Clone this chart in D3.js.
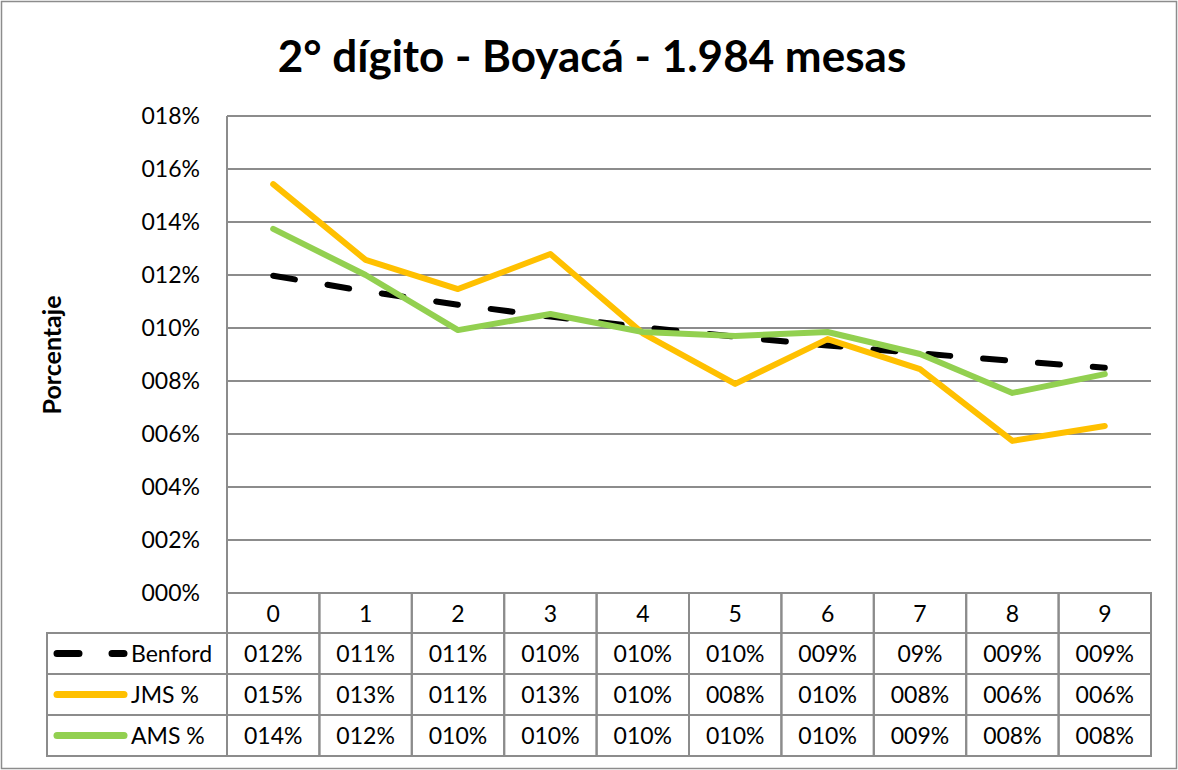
<!DOCTYPE html>
<html><head><meta charset="utf-8">
<script src="https://cdn.jsdelivr.net/npm/d3@7"></script>
<style>body{margin:0;background:#fff}svg{display:block}text{font-family:Lato,"Open Sans",sans-serif}</style>
</head><body>
<svg id="c" width="1178" height="770"></svg>
<script>
const categories = ["0","1","2","3","4","5","6","7","8","9"];
const benford = [11.97,11.39,10.88,10.43,10.03,9.67,9.34,9.04,8.76,8.50];
const jms = [15.43,12.57,11.47,12.79,9.80,7.89,9.58,8.45,5.74,6.30];
const ams = [13.74,12.00,9.92,10.53,9.85,9.70,9.85,9.02,7.55,8.26];
const benfordLabels = ["012%","011%","011%","010%","010%","010%","009%","09%","009%","009%"];
const jmsLabels = ["015%","013%","011%","013%","010%","008%","010%","008%","006%","006%"];
const amsLabels = ["014%","012%","010%","010%","010%","010%","010%","009%","008%","008%"];
const yTicks = [0,2,4,6,8,10,12,14,16,18];
const yTickLabels = ["000%","002%","004%","006%","008%","010%","012%","014%","016%","018%"];
const seriesNames = ["Benford","JMS %","AMS %"];
const title = "2° dígito - Boyacá - 1.984 mesas";

const svg = d3.select("#c");
const L = 227, R = 1151, T = 116, B = 593;
const legL = 47;
const grid = "#8c8c8c";

svg.append("rect").attr("x",1.5).attr("y",1.5).attr("width",1175).attr("height",767)
  .attr("fill","#fff").attr("stroke","#8c8c8c").attr("stroke-width",1.5);

svg.append("text").attr("x",592).attr("y",72).attr("text-anchor","middle")
  .attr("font-size",44).attr("font-weight","bold").text(title);

const x = d3.scaleBand().domain(categories).range([L,R]);
const y = d3.scaleLinear().domain([0,18]).range([B,T]);

// gridlines
svg.append("g").selectAll("line").data(yTicks).join("line")
  .attr("x1",L).attr("x2",R).attr("y1",d=>y(d)).attr("y2",d=>y(d))
  .attr("stroke",grid).attr("stroke-width",2);
svg.append("line").attr("x1",L).attr("x2",L).attr("y1",T).attr("y2",B)
  .attr("stroke",grid).attr("stroke-width",2);

// y tick labels
const yAxis = d3.axisLeft(y).tickValues(yTicks).tickFormat((d,i)=>yTickLabels[i]).tickSize(0).tickPadding(27);
const ga = svg.append("g").attr("transform",`translate(${L},0)`).call(yAxis);
ga.select(".domain").remove();
ga.selectAll("text").attr("font-size",23).attr("fill","#000").attr("font-family","Lato,'Open Sans',sans-serif");

svg.append("text").attr("transform","translate(61,355) rotate(-90)").attr("text-anchor","middle")
  .attr("font-size",25).attr("font-weight","bold").text("Porcentaje");

// lines
const cx = d=>x(d)+x.bandwidth()/2;
const line = d3.line().x((d,i)=>cx(categories[i])).y(d=>y(d));
const styles = [
  {data:benford,color:"#000",dash:"22 33"},
  {data:jms,color:"#FFC000",dash:null},
  {data:ams,color:"#92D050",dash:null}
];
styles.forEach(s=>{
  svg.append("path").datum(s.data).attr("d",line).attr("fill","none")
    .attr("stroke",s.color).attr("stroke-width",6).attr("stroke-linecap","round")
    .attr("stroke-linejoin","round").attr("stroke-dasharray",s.dash);
});

// table
const tbl = svg.append("g");
const rowsY = [B, B+40, B+81, B+122, B+163];
categories.forEach(c=>{
  tbl.append("rect").attr("x",x(c)).attr("y",rowsY[0]).attr("width",x.bandwidth()).attr("height",rowsY[1]-rowsY[0])
    .attr("fill","none").attr("stroke",grid).attr("stroke-width",2);
  tbl.append("text").attr("x",cx(c)).attr("y",rowsY[0]+29).attr("text-anchor","middle").attr("font-size",23).text(c);
});
const labelsAll = [benfordLabels,jmsLabels,amsLabels];
labelsAll.forEach((labs,r)=>{
  const y0 = rowsY[r+1], y1 = rowsY[r+2];
  tbl.append("rect").attr("x",legL).attr("y",y0).attr("width",L-legL).attr("height",y1-y0)
    .attr("fill","none").attr("stroke",grid).attr("stroke-width",2);
  categories.forEach((c,i)=>{
    tbl.append("rect").attr("x",x(c)).attr("y",y0).attr("width",x.bandwidth()).attr("height",y1-y0)
      .attr("fill","none").attr("stroke",grid).attr("stroke-width",2);
    tbl.append("text").attr("x",cx(c)).attr("y",y0+29).attr("text-anchor","middle").attr("font-size",23).text(labs[i]);
  });
  const ym = (y0+y1)/2;
  tbl.append("line").attr("x1",57).attr("x2",124).attr("y1",ym).attr("y2",ym)
    .attr("stroke",styles[r].color).attr("stroke-width",7).attr("stroke-linecap","round")
    .attr("stroke-dasharray",r===0?"22 33":null);
  tbl.append("text").attr("x",131).attr("y",y0+29).attr("font-size",23).text(seriesNames[r]);
});
</script>
</body></html>
